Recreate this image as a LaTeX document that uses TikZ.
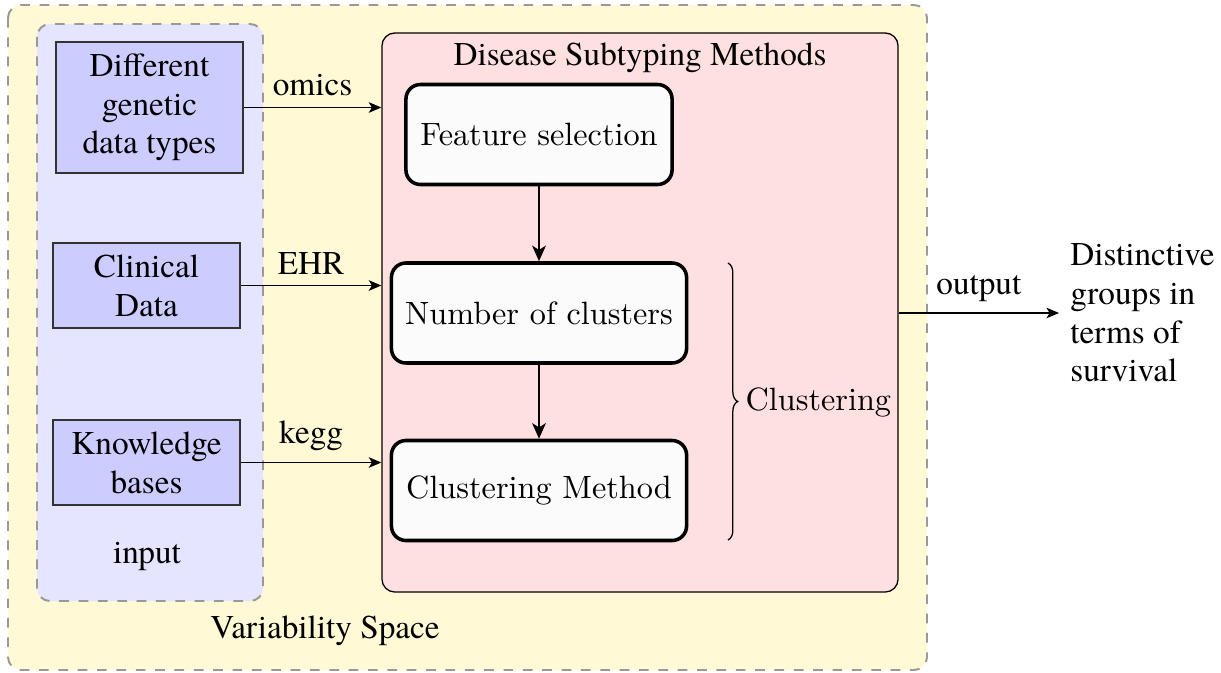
\documentclass[tikz,border=0pt]{standalone}
\usepackage{fontspec}
\newfontfamily\tms[Scale=1.03]{texgyretermes-regular.otf}
\usetikzlibrary{arrows.meta,decorations.pathreplacing}
\definecolor{spaceyellow}{RGB}{255,249,214}
\definecolor{inputblue}{RGB}{229,229,255}
\definecolor{sourceblue}{RGB}{204,204,255}
\definecolor{methodred}{RGB}{255,224,224}
\definecolor{stepfill}{RGB}{251,251,251}
\begin{document}
\begin{tikzpicture}[x=0.31pt,y=-0.31pt,
  every node/.style={font=\tms},
  region/.style={draw=black!40, dashed, line width=0.6pt, rounded corners=4pt},
  source/.style={draw=black!80, fill=sourceblue, line width=0.4pt, align=center,
                 minimum width=58pt, inner sep=2pt},
  stepbox/.style={draw, line width=1.1pt, rounded corners=4.5pt, fill=stepfill,
                  font=\normalfont, minimum height=31pt},
  feed/.style={-{Stealth[length=3.9pt,width=3.3pt,inset=1pt]}, line width=0.45pt},
  flow/.style={-{Stealth[length=4.8pt,width=4.2pt,inset=1.3pt]}, line width=0.8pt},
]
\useasboundingbox (0,0) rectangle (1221,672);

% variability space and input area
\path[region, fill=spaceyellow] (8,5) rectangle (927,670);
\path[region, fill=inputblue] (37,24) rectangle (263,601);

% disease subtyping methods panel
\node[draw, fill=methodred, rounded corners=4pt, line width=0.4pt,
      minimum width=160pt, minimum height=173.3pt, inner sep=0pt] (methods) at (640,312.5) {};
\node[anchor=base] (title) at (640,65) {Disease Subtyping Methods};

% data sources
\node[source, minimum height=40.6pt] (omics) at (149.5,107.5) {Different\\genetic\\data types};
\node[source, minimum height=26.4pt] (clin) at (146.5,285.5) {Clinical\\Data};
\node[source, minimum height=26.4pt] (kb) at (146.5,462.5) {Knowledge\\bases};
\node[anchor=base] (inp) at (147,563) {input};
\node[anchor=base] (vs) at (325,638) {Variability Space};

% pipeline steps
\node[stepbox, minimum width=82.5pt] (fs) at (539,134.5) {Feature selection};
\node[stepbox, minimum width=91.5pt] (nc) at (539,313) {Number of clusters};
\node[stepbox, minimum width=91.5pt] (cm) at (539,490.5) {Clustering Method};
\draw[flow] (fs) -- (nc);
\draw[flow] (nc) -- (cm);

% inputs into the methods panel
\draw[feed] (omics.east) -- (omics.east -| methods.west) node[midway, above] {omics};
\draw[feed] (clin.east) -- (clin.east -| methods.west) node[midway, above] {EHR};
\draw[feed] (kb.east) -- (kb.east -| methods.west) node[midway, above] {kegg};

% clustering brace
\coordinate (btop) at (728,263);
\coordinate (bbot) at (728,540);
\draw[decorate, decoration={brace, amplitude=3pt}, line width=0.4pt] (btop) -- (bbot);
\node[font=\normalfont, anchor=base west, inner sep=0pt] (clu) at (745,410) {Clustering};

% output
\node[anchor=west, align=left] (result) at (1059,313) {Distinctive\\groups in\\terms of\\survival};
\draw[feed] (methods.east |- nc) -- (result.west) node[midway, above] {output};
\end{tikzpicture}
\end{document}
